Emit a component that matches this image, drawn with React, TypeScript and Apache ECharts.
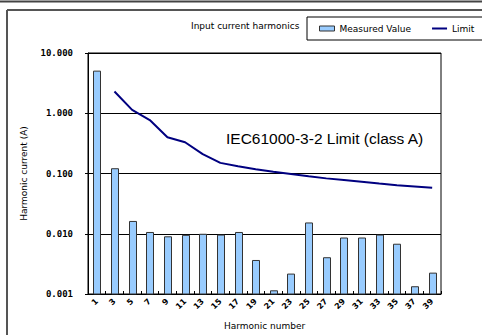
import React, { useEffect, useRef } from "react";
import * as echarts from "echarts";

const harmonics = ["1", "3", "5", "7", "9", "11", "13", "15", "17", "19", "21", "23", "25", "27", "29", "31", "33", "35", "37", "39"];
const measured = [5.0, 0.12, 0.016, 0.0105, 0.0089, 0.0094, 0.0098, 0.0095, 0.0105, 0.0036, 0.00113, 0.00214, 0.0151, 0.004, 0.0085, 0.0085, 0.0095, 0.0067, 0.00132, 0.00222];
const limit = [null, 2.3, 1.14, 0.77, 0.4, 0.33, 0.21, 0.15, 0.132, 0.118, 0.107, 0.098, 0.09, 0.083, 0.078, 0.073, 0.068, 0.064, 0.061, 0.058];
const yTicks = [0.001, 0.01, 0.1, 1, 10];
const yMin = 0.001;
const yMax = 10;

const font = "DejaVu Sans";

export default function App() {
  const ref = useRef<HTMLDivElement>(null);
  useEffect(() => {
    const chart = echarts.init(ref.current!, null, { renderer: "svg" });
    chart.setOption({
      animation: false,
      backgroundColor: "#fff",
      title: {
        text: "Input current harmonics",
        left: 191,
        top: 21,
        z: 1,
        padding: 0,
        textStyle: { fontFamily: font, fontSize: 9, fontWeight: "normal", color: "#000" },
      },
      legend: {
        left: 307,
        top: 17,
        width: 300,
        orient: "horizontal",
        padding: [7, 40, 7, 12],
        itemWidth: 15,
        itemHeight: 5,
        itemGap: 21,
        backgroundColor: "#fff",
        borderColor: "#000",
        borderWidth: 1,
        borderRadius: 0,
        z: 5,
        textStyle: { fontFamily: font, fontSize: 9, color: "#000" },
        data: [
          { name: "Measured Value", icon: "rect", itemStyle: { color: "#99CCFF", borderColor: "#333", borderWidth: 1 } },
          { name: "Limit", icon: "path://M0,0L0.01,0M0,1.5L15,1.5L15,3.5L0,3.5ZM0,5L0.01,5", itemStyle: { color: "#000080" } },
        ],
      },
      grid: {
        left: 88,
        top: 53,
        right: 41,
        bottom: 41,
        show: true,
        borderColor: "#000",
        borderWidth: 1,
        backgroundColor: "transparent",
      },
      xAxis: {
        type: "category",
        data: harmonics,
        boundaryGap: true,
        name: "Harmonic number",
        nameLocation: "middle",
        nameGap: 27,
        nameTextStyle: { fontFamily: font, fontSize: 9, color: "#000" },
        axisLine: { lineStyle: { color: "#000", width: 1 } },
        axisTick: { show: true, inside: true, length: 3, lineStyle: { color: "#000" } },
        axisLabel: { rotate: 45, fontFamily: font, fontSize: 8, fontWeight: "bold", color: "#000", margin: 6 },
      },
      yAxis: {
        type: "log",
        logBase: 10,
        min: yMin,
        max: yMax,
        name: "Harmonic current (A)",
        nameLocation: "middle",
        nameRotate: 90,
        nameGap: 60,
        nameTextStyle: { fontFamily: font, fontSize: 9, color: "#000" },
        axisLine: { show: true, lineStyle: { color: "#000", width: 1 } },
        axisTick: { show: true, length: 3, lineStyle: { color: "#000" } },
        minorTick: { show: false },
        splitLine: { show: true, lineStyle: { color: "#000", width: 1 } },
        axisLabel: {
          fontFamily: "DejaVu Sans Mono",
          fontSize: 9,
          fontWeight: "bold",
          color: "#000",
          margin: 15,
          formatter: (v: number) => {
            const match = yTicks.find((t) => Math.abs(t - v) / t < 1e-6);
            return (match !== undefined ? match : v).toFixed(3);
          },
        },
      },
      series: [
        {
          name: "Measured Value",
          type: "custom",
          data: measured.map((v, i) => [i, v]),
          encode: { x: 0, y: 1 },
          itemStyle: { color: "#99CCFF", borderColor: "#333", borderWidth: 1 },
          renderItem: (params: any, api: any) => {
            const idx = api.value(0);
            const v = api.value(1);
            const top = api.coord([idx, v]);
            const bot = api.coord([idx, yMin]);
            const w = 7;
            return {
              type: "rect",
              shape: { x: Math.round(top[0] - w / 2) + 0.5, y: top[1], width: w, height: bot[1] - top[1] },
              style: { fill: "#99CCFF", stroke: "#333", lineWidth: 1 },
            };
          },
        },
        {
          name: "Limit",
          type: "line",
          data: limit,
          symbol: "none",
          connectNulls: false,
          z: 3,
          lineStyle: { color: "#000080", width: 2 },
          itemStyle: { color: "#000080" },
        },
      ],
      graphic: [
        { type: "line", shape: { x1: 0, y1: 1.5, x2: 482, y2: 1.5 }, style: { stroke: "#444", lineWidth: 2 } },
        { type: "line", shape: { x1: 7, y1: 10, x2: 482, y2: 10 }, style: { stroke: "#555", lineWidth: 2 } },
        { type: "line", shape: { x1: 7, y1: 10, x2: 7, y2: 335 }, style: { stroke: "#555", lineWidth: 2 } },
        {
          type: "text",
          left: 226,
          top: 130,
          style: { text: "IEC61000-3-2 Limit (class A)", fontFamily: "Liberation Sans", fontSize: 15.5, fill: "#000" },
        },
      ],
    });
    return () => chart.dispose();
  }, []);
  return <div ref={ref} style={{ position: "fixed", left: 0, top: 0, width: 482, height: 335 }} />;
}
